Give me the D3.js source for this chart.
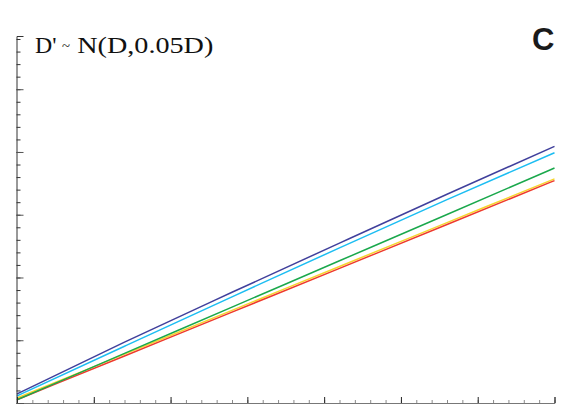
<!DOCTYPE html>
<html>
<head>
<meta charset="utf-8" />
<script src="https://d3js.org/d3.v7.min.js"></script>
<style>
  html, body { margin: 0; padding: 0; background: #fff; }
  svg { display: block; }
  .line { fill: none; stroke-width: 1.5px; }
</style>
</head>
<body>
<svg></svg>
<script>
// x positions in minor-tick units, one row of y values per series
var xs = [0, 7, 14, 21, 28, 35];
var navy   = [0.72, 4.85, 8.82, 12.74, 16.63, 20.45];
var cyan   = [0.56, 4.52, 8.46, 12.36, 16.20, 19.94];
var green  = [0.26, 3.95, 7.64, 11.33, 15.02, 18.72];
var yellow = [0.40, 3.89, 7.38, 10.88, 14.37, 17.86];
var red    = [0.26, 3.75, 7.24, 10.73, 14.22, 17.72];

var seriesNames = ['yellow', 'red', 'green', 'cyan', 'navy'];
var seriesValues = { navy: navy, cyan: cyan, green: green, yellow: yellow, red: red };
var colors = { navy: '#40409c', cyan: '#1cbdf2', green: '#1aa84c', yellow: '#f7d52c', red: '#ee3a2c' };

var titleParts = ["D'", '~', 'N(D,0.05D)'];
var panel = 'C';

var width = 573, height = 412;

var x = d3.scaleLinear().domain([0, 35]).range([17, 554.5]);
var y = d3.scaleLinear().domain([0, 29.24]).range([403, 36]);

var svg = d3.select('svg')
  .attr('width', width)
  .attr('height', height);

var line = d3.line()
  .x(function (d) { return x(d[0]); })
  .y(function (d) { return y(d[1]); })
  .curve(d3.curveMonotoneX);

seriesNames.forEach(function (name) {
  var pts = xs.map(function (v, i) { return [v, seriesValues[name][i]]; });
  svg.append('path')
    .attr('class', 'line')
    .attr('d', line(pts))
    .style('stroke', colors[name]);
});

// axes: minor ticks every unit, major every 5, no labels
var xMinor = d3.range(0, 36);
var xMajor = d3.range(0, 36, 5);
var yMinor = d3.range(0, 30);
var yMajor = d3.range(0, 30, 5);

var gxMinor = svg.append('g')
  .attr('transform', 'translate(0,403)')
  .call(d3.axisBottom(x).tickValues(xMinor).tickSizeInner(-3).tickSizeOuter(-6).tickFormat(''));
gxMinor.selectAll('.tick line').attr('stroke', '#8a8a8a');
gxMinor.select('.domain').attr('stroke', '#777');

var gxMajor = svg.append('g')
  .attr('transform', 'translate(0,403)')
  .call(d3.axisBottom(x).tickValues(xMajor).tickSizeInner(-6).tickSizeOuter(0).tickFormat(''));
gxMajor.select('.domain').remove();
gxMajor.selectAll('.tick line').attr('stroke', '#222');

var gyMinor = svg.append('g')
  .attr('transform', 'translate(16.5,0)')
  .call(d3.axisLeft(y).tickValues(yMinor).tickSizeInner(-4).tickSizeOuter(-7).tickFormat(''));
gyMinor.selectAll('.tick line').attr('stroke', '#333');
gyMinor.select('.domain').attr('stroke', '#333');

var gyMajor = svg.append('g')
  .attr('transform', 'translate(16.5,0)')
  .call(d3.axisLeft(y).tickValues(yMajor).tickSizeInner(-7).tickSizeOuter(0).tickFormat(''));
gyMajor.select('.domain').remove();
gyMajor.selectAll('.tick line').attr('stroke', '#555');

// title pieces, each stretched horizontally to mimic the wide TeX serif
var titleX = [35, 62, 77.3];
var titleW = [21.5, 8, 136];
var titleSize = [23, 15, 23];
var titleDy = [0, -2, 0];
titleParts.forEach(function (s, i) {
  svg.append('text')
    .attr('x', titleX[i])
    .attr('y', 52.5 + titleDy[i])
    .attr('textLength', titleW[i])
    .attr('lengthAdjust', 'spacingAndGlyphs')
    .style('font-family', '"Liberation Serif", serif')
    .style('font-size', titleSize[i] + 'px')
    .style('fill', '#111')
    .text(s);
});

svg.append('text')
  .attr('x', 532)
  .attr('y', 50)
  .style('font-family', '"Liberation Sans", Arial, sans-serif')
  .style('font-weight', 'bold')
  .style('font-size', '31px')
  .style('fill', '#1a1a1a')
  .text(panel);
</script>
</body>
</html>
